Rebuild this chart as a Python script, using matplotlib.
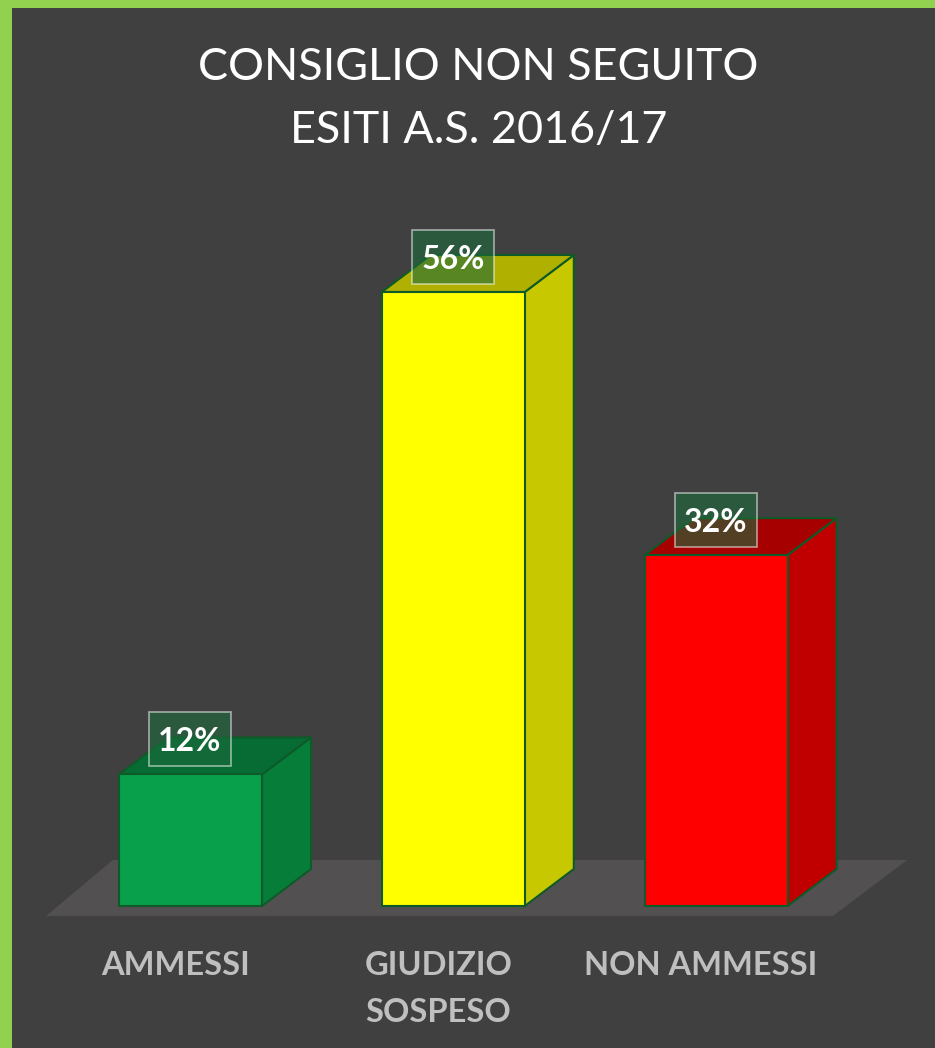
import matplotlib.pyplot as plt
from matplotlib.patches import Polygon, Rectangle

# chart data
title_lines = ['CONSIGLIO NON SEGUITO', 'ESITI A.S. 2016/17']
categories = ['AMMESSI', 'GIUDIZIO\nSOSPESO', 'NON AMMESSI']
values = [12, 56, 32]
value_labels = ['12%', '56%', '32%']

front_colors = ['#08A04B', '#FFFF00', '#FF0000']
side_colors = ['#077D3A', '#C8C800', '#C00000']
top_colors = ['#066C33', '#B0B000', '#A60000']
edge_color = '#0E5A28'

BG = '#404040'
FLOOR = '#525051'
BORDER = '#92D050'

fig = plt.figure(figsize=(9.35, 10.48), dpi=100)
fig.patch.set_facecolor(BG)

ax = fig.add_axes([0, 0, 1, 1])
ax.set_xlim(-0.725, 2.833)
ax.set_ylim(-12.95, 82.63)
ax.axis('off')

# 3d look: depth offset of the bars (x units, value units)
dx, dz = 0.1865, 3.375
half_w = 0.272

# floor
floor = Polygon([(-0.550, -0.91), (2.445, -0.91), (2.727, 4.2), (-0.295, 4.2)],
                closed=True, facecolor=FLOOR, edgecolor='none', zorder=1)
ax.add_patch(floor)

for i, (v, lab) in enumerate(zip(values, value_labels)):
    x0, x1 = i - half_w, i + half_w
    side = Polygon([(x1, 0), (x1 + dx, dz), (x1 + dx, v + dz), (x1, v)],
                   facecolor=side_colors[i], edgecolor=edge_color, lw=1.5,
                   joinstyle='round', zorder=2)
    top = Polygon([(x0, v), (x0 + dx, v + dz), (x1 + dx, v + dz), (x1, v)],
                  facecolor=top_colors[i], edgecolor=edge_color, lw=1.5,
                  joinstyle='round', zorder=2)
    front = Rectangle((x0, 0), 2 * half_w, v, facecolor=front_colors[i],
                      edgecolor=edge_color, lw=1.5, joinstyle='round', zorder=3)
    for p in (side, top, front):
        ax.add_patch(p)

    # value label box
    bw, bh = 0.312, 4.93
    cy = v + 3.2
    ax.add_patch(Rectangle((i - 0.002 - bw / 2, cy - bh / 2), bw, bh,
                           facecolor='#1C6A3C', alpha=0.6, edgecolor='none',
                           zorder=5))
    ax.add_patch(Rectangle((i - 0.002 - bw / 2, cy - bh / 2), bw, bh,
                           facecolor='none', edgecolor=(1, 1, 1, 0.5), lw=1.3,
                           zorder=6))
    ax.text(i - 0.002, cy, lab, color='white', fontsize=23, fontweight='bold',
            family='Lato', ha='center', va='center_baseline', zorder=7)

# category labels below the floor
for i, cat in enumerate(categories):
    for j, line in enumerate(cat.split('\n')):
        ax.text(i - 0.057, -6.29 - j * 4.29, line, color='#BFBFBF',
                fontsize=23.5, fontweight='bold', family='Lato',
                ha='center', va='baseline')

# title
for j, line in enumerate(title_lines):
    fig.text(478.5 / 935, 1 - (80 + j * 63) / 1048, line, color='white',
             fontsize=32.3, family='Lato', ha='center', va='baseline')

# green frame on the left and top
fig.patches.append(Rectangle((0, 0), 12 / 935, 1, transform=fig.transFigure,
                             facecolor=BORDER, edgecolor='none', zorder=10))
fig.patches.append(Rectangle((0, 1 - 8 / 1048), 1, 8 / 1048,
                             transform=fig.transFigure, facecolor=BORDER,
                             edgecolor='none', zorder=10))

fig.savefig('out.png', dpi=100, facecolor=BG)
